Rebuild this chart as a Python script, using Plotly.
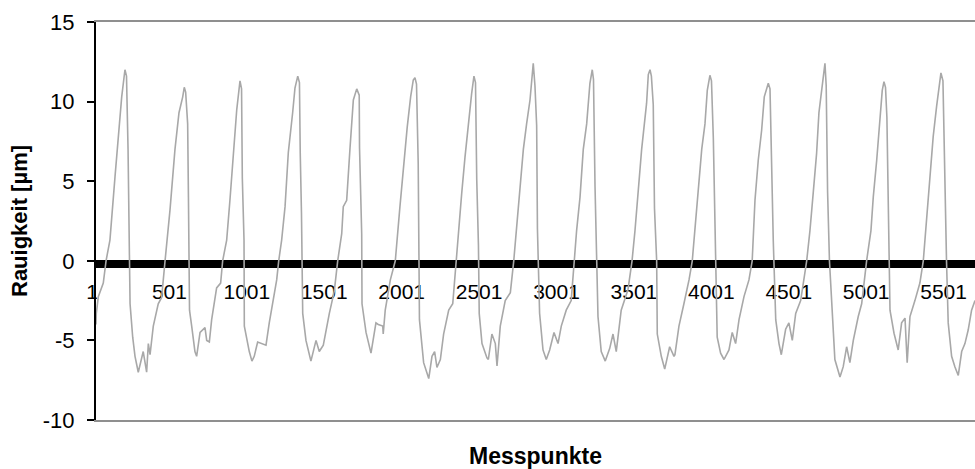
import plotly.graph_objects as go

messpunkt = [
    1, 3, 16, 48, 66, 91, 124, 145, 167, 188, 198, 208, 217, 221, 238, 253, 274, 306, 328, 339, 350, 371, 403, 425,
    447, 479, 511, 537, 561, 571, 580, 593, 598, 605, 619, 640, 651, 673, 705, 716, 733, 748, 780, 806,
    819, 845, 866, 888, 910, 931, 941, 946, 957, 959, 991, 1008, 1023, 1045, 1067, 1099, 1120, 1152, 1168,
    1181, 1200, 1222, 1243, 1271, 1286, 1304, 1315, 1320, 1328, 1336, 1357, 1389, 1422, 1443, 1469, 1508, 1540,
    1562, 1588, 1598, 1620, 1641, 1663, 1685, 1701, 1703, 1717, 1719, 1745, 1777, 1809, 1824, 1853, 1856, 1869, 1902,
    1934, 1964, 1986, 2011, 2033, 2050, 2061, 2071, 2082, 2087, 2090, 2117, 2150, 2171, 2188, 2203, 2225, 2246, 2279, 2305,
    2326, 2341, 2363, 2384, 2405, 2427, 2442, 2452, 2460, 2471, 2476, 2494, 2526, 2535, 2558, 2580, 2591, 2612, 2644, 2677,
    2699, 2718, 2739, 2761, 2782, 2804, 2825, 2836, 2847, 2852, 2866, 2888, 2909, 2931, 2959, 2985, 3006, 3038, 3070,
    3088, 3105, 3127, 3148, 3170, 3191, 3206, 3214, 3224, 3236, 3243, 3264, 3290, 3319, 3340, 3361, 3393, 3437,
    3463, 3482, 3503, 3525, 3557, 3568, 3579, 3588, 3600, 3608, 3622, 3626, 3652, 3674, 3706, 3734, 3740, 3766, 3798, 3831,
    3852, 3869, 3891, 3913, 3934, 3949, 3966, 3976, 3988, 4003, 4013, 4035, 4057, 4089, 4110, 4132, 4154, 4186, 4218,
    4239, 4257, 4278, 4300, 4317, 4343, 4354, 4365, 4375, 4391, 4412, 4427, 4455, 4476, 4498, 4520, 4552,
    4591, 4612, 4633, 4655, 4670, 4691, 4709, 4717, 4726, 4738, 4759, 4773, 4806, 4827, 4849, 4870, 4892, 4924, 4946,
    4978, 5006, 5021, 5043, 5064, 5079, 5090, 5100, 5109, 5118, 5129, 5155, 5182, 5204, 5226, 5240, 5258, 5290, 5322,
    5344, 5366, 5387, 5408, 5430, 5452, 5458, 5471, 5484, 5494, 5505, 5527, 5548, 5570, 5592, 5613, 5634, 5656, 5678,
]
rauigkeit = [
    -4.0, -3.3, -2.25, -1.4, 0.0, 1.3, 5.3, 8.0, 10.3, 12.0, 11.6, 7.0, 1.5, -2.7, -4.8, -6.0, -7.0, -5.7, -7.0, -5.2, -5.9, -4.1, -2.7, -2.3,
    0.0, 3.2, 7.0, 9.3, 10.3, 10.9, 10.6, 8.6, 4.0, -3.1, -4.1, -5.7, -6.0, -4.5, -4.2, -5.0, -5.1, -3.7, -1.7, -1.4,
    0.0, 1.3, 3.8, 7.0, 9.5, 11.3, 10.8, 5.2, 1.3, -4.1, -5.7, -6.3, -6.0, -5.1, -5.2, -5.3, -3.9, -2.1, -1.2,
    0.0, 1.3, 3.4, 6.8, 9.3, 10.85, 11.6, 11.2, 6.8, 3.0, -3.3, -5.0, -6.3, -5.0, -5.7, -5.3, -3.3, -1.9,
    0.0, 1.7, 3.4, 3.8, 7.0, 10.1, 10.8, 10.4, 7.1, 1.7, -2.7, -4.5, -5.8, -3.9, -4.0, -4.1, -4.6, -3.1, -1.2,
    0.0, 3.4, 5.9, 8.4, 10.3, 11.35, 11.5, 11.1, 6.1, 1.0, -3.7, -6.4, -7.4, -6.0, -5.7, -6.7, -6.2, -4.6, -3.1, -2.7,
    0.0, 1.7, 4.25, 6.5, 8.6, 10.5, 11.6, 11.2, 5.1, 1.0, -3.3, -5.2, -6.1, -6.2, -4.6, -5.2, -6.6, -4.1, -2.5, -2.0,
    0.0, 2.1, 4.65, 7.0, 8.6, 10.1, 12.4, 11.0, 8.5, 2.0, -3.3, -5.6, -6.2, -5.6, -4.5, -5.2, -4.1, -3.1, -2.5,
    0.0, 1.9, 4.0, 7.0, 8.6, 11.15, 12.0, 11.4, 4.65, 0.0, -3.5, -5.7, -6.3, -5.5, -4.6, -5.7, -3.1, -1.8,
    0.0, 1.9, 4.45, 7.0, 9.9, 11.7, 12.0, 11.6, 9.8, 3.3, 0.0, -4.6, -6.0, -6.8, -5.4, -6.0, -5.9, -4.1, -2.7, -1.2,
    0.0, 1.9, 4.45, 7.0, 8.6, 10.7, 11.65, 11.3, 7.7, 1.3, -4.8, -5.8, -6.2, -5.6, -4.5, -5.2, -3.7, -2.25, -1.2,
    0.0, 3.8, 6.3, 8.2, 10.3, 11.15, 10.8, 5.6, 1.3, -3.7, -5.2, -5.9, -4.3, -3.9, -5.0, -3.3, -2.5,
    0.0, 1.9, 4.25, 6.75, 9.3, 10.9, 12.4, 11.0, 4.3, 0.0, -3.7, -6.2, -7.3, -6.65, -5.4, -6.4, -5.0, -3.5, -2.7,
    0.0, 1.9, 4.0, 6.3, 9.05, 10.7, 11.25, 10.9, 9.0, 3.0, -3.1, -4.55, -5.6, -3.9, -3.6, -6.4, -3.5, -2.5, -1.4,
    0.0, 2.8, 5.5, 7.8, 9.7, 11.25, 11.8, 11.3, 4.3, 0.0, -3.9, -6.0, -6.65, -7.2, -5.7, -5.2, -4.35, -3.1, -2.5,
]

x_tickvals = [1, 501, 1001, 1501, 2001, 2501, 3001, 3501, 4001, 4501, 5001, 5501]
x_ticktext = [str(v) for v in x_tickvals]
y_tickvals = [-10, -5, 0, 5, 10, 15]
y_ticktext = ["-10", "-5", "0", "5", "10", "15"]
x_range = [1, 5678]
y_range = [-10, 15]

FONT = "Liberation Sans, Arial, sans-serif"

fig = go.Figure()
# empty trace so the bottom (title / frame) axis gets drawn
fig.add_trace(go.Scatter(x=[], y=[], xaxis="x2", yaxis="y", mode="lines",
                         hoverinfo="skip", showlegend=False))
fig.add_trace(go.Scatter(
    x=messpunkt, y=rauigkeit, mode="lines",
    line=dict(color="#a8a8a8", width=1.6),
    hoverinfo="skip", showlegend=False,
))

fig.update_layout(
    template="none",
    width=975, height=469,
    margin=dict(l=96, r=0, t=22, b=49, pad=0),
    paper_bgcolor="white", plot_bgcolor="white",
    font=dict(family=FONT, size=21, color="black"),
    showlegend=False,
    xaxis=dict(
        range=x_range, anchor="free", position=0.3932,
        tickmode="array", tickvals=x_tickvals, ticktext=x_ticktext,
        ticks="", showgrid=False, zeroline=False,
        showline=True, linecolor="black", linewidth=8,
        tickfont=dict(family=FONT, size=21, color="black"),
        ticklabelstandoff=6, ticklabelshift=-4,
        layer="below traces", automargin=False,
    ),
    xaxis2=dict(
        range=x_range, overlaying="x", anchor="y", side="bottom",
        showticklabels=False, ticks="", showgrid=False, zeroline=False,
        showline=True, mirror=True, linecolor="#8f8f8f", linewidth=2,
        title=dict(text="<b>Messpunkte</b>", font=dict(family=FONT, size=23, color="black"), standoff=28),
        layer="below traces", automargin=False,
    ),
    yaxis=dict(
        range=y_range, tickmode="array", tickvals=y_tickvals, ticktext=y_ticktext,
        ticks="outside", ticklen=7, tickwidth=1.5, tickcolor="black",
        showline=True, linecolor="black", linewidth=2,
        showgrid=False, zeroline=False,
        tickfont=dict(family=FONT, size=22, color="black"),
        ticklabelstandoff=8,
        title=dict(text="<b>Rauigkeit [µm]</b>", font=dict(family=FONT, size=22, color="black"), standoff=9),
        automargin=False,
    ),
)

fig.write_html("out.html")
